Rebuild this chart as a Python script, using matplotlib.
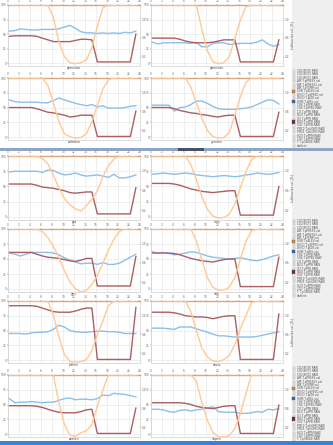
import numpy as np
import matplotlib
matplotlib.use("Agg")
import matplotlib.pyplot as plt
from matplotlib.patches import Rectangle

W, H = 333, 445

# Hourly sample times (one value per hour)
HOURS = np.arange(24) + 0.25
HOUR_TICKS = list(range(0, 25, 2))

STATIONS = ["gemeinde", "gemeinde", "zollikofen", "yverdon",
            "bad", "rüthi", "gais", "lenk",
            "pfäfers", "davos", "saanen", "laupen"]

# Relative humidity per station (left axis)
humidity = [
    [55, 56, 59, 58, 57, 57, 58, 58, 58, 59, 62, 65, 60, 54, 52, 52, 51, 52, 51, 52, 51, 53, 52, 55],
    [36, 33, 35, 35, 35, 35, 35, 34, 35, 28, 28, 34, 35, 35, 32, 33, 34, 34, 34, 36, 40, 33, 29, 32],
    [63, 60, 59, 59, 59, 59, 58, 58, 62, 66, 63, 60, 57, 55, 53, 55, 51, 53, 49, 49, 49, 50, 52, 53],
    [54, 54, 54, 54, 44, 50, 51, 55, 61, 61, 57, 52, 48, 47, 47, 47, 48, 49, 51, 55, 59, 63, 62, 56],
    [74, 75, 75, 75, 75, 75, 73, 77, 76, 72, 69, 70, 72, 69, 67, 68, 69, 67, 65, 70, 64, 64, 66, 69],
    [70, 71, 72, 71, 70, 71, 72, 71, 69, 68, 67, 66, 67, 68, 67, 66, 67, 69, 70, 72, 71, 70, 71, 73],
    [60, 58, 55, 58, 61, 61, 61, 61, 60, 57, 52, 48, 45, 42, 43, 43, 41, 44, 41, 41, 43, 48, 53, 58],
    [62, 60, 61, 59, 57, 58, 60, 62, 61, 58, 55, 53, 52, 51, 50, 51, 52, 50, 48, 47, 49, 52, 55, 57],
    [45, 45, 45, 44, 46, 47, 47, 48, 52, 59, 56, 50, 48, 47, 47, 48, 49, 49, 48, 48, 47, 45, 45, 45],
    [54, 54, 54, 53, 52, 56, 56, 56, 53, 50, 47, 44, 41, 41, 40, 39, 39, 39, 39, 40, 42, 44, 46, 48],
    [60, 53, 54, 54, 55, 54, 53, 54, 54, 57, 60, 61, 58, 59, 59, 58, 60, 66, 65, 69, 68, 67, 65, 63],
    [42, 42, 41, 38, 37, 40, 41, 39, 41, 42, 44, 46, 38, 37, 37, 37, 35, 35, 36, 38, 37, 42, 41, 43],
]

# Pressure signal per station (left axis)
pressure = [
    [46, 47, 47, 47, 47, 46, 43, 40, 37, 37, 37, 37, 39, 41, 41, 40, 2, 2, 2, 2, 2, 2, 2, 50],
    [43, 43, 43, 43, 43, 41, 38, 36, 35, 35, 35, 36, 38, 40, 40, 40, 2, 2, 2, 2, 2, 2, 2, 40],
    [50, 50, 50, 50, 50, 48, 45, 42, 41, 39, 37, 34, 35, 37, 37, 37, 1, 1, 1, 1, 1, 1, 1, 44],
    [50, 50, 50, 50, 48, 45, 43, 41, 40, 38, 37, 35, 34, 36, 37, 37, 1, 1, 1, 1, 1, 1, 1, 42],
    [54, 54, 54, 54, 54, 52, 49, 48, 47, 45, 43, 40, 39, 40, 41, 41, 5, 5, 5, 5, 5, 5, 5, 48],
    [55, 55, 55, 55, 54, 52, 49, 46, 44, 42, 41, 40, 41, 42, 43, 43, 3, 3, 3, 3, 3, 3, 3, 50],
    [61, 61, 61, 61, 61, 58, 55, 53, 52, 51, 49, 47, 46, 48, 51, 51, 5, 5, 5, 5, 5, 5, 5, 54],
    [60, 60, 60, 60, 59, 57, 54, 51, 49, 47, 46, 45, 47, 49, 50, 50, 4, 4, 4, 4, 4, 4, 4, 53],
    [92, 92, 92, 92, 92, 91, 88, 85, 82, 81, 81, 81, 83, 86, 88, 88, 1, 1, 1, 1, 1, 1, 1, 89],
    [81, 81, 81, 81, 80, 78, 75, 74, 73, 73, 72, 70, 72, 74, 75, 75, 1, 1, 1, 1, 1, 1, 1, 78],
    [48, 48, 48, 48, 48, 47, 45, 42, 39, 37, 36, 36, 36, 38, 41, 42, 1, 1, 1, 1, 1, 1, 1, 44],
    [53, 53, 53, 53, 53, 53, 52, 50, 47, 45, 44, 43, 45, 47, 48, 48, 1, 1, 1, 1, 1, 1, 1, 49],
]

# Sun signal per station (right axis)
sun = [
    [1.3, 1.3, 1.3, 1.3, 1.3, 1.3, 1.3, 1.3, 1.04, 0.52, 0.20, 0.07, 0.05, 0.07, 0.13, 0.39, 0.85, 1.24, 1.3, 1.3, 1.3, 1.3, 1.3, 1.3],
    [1.3, 1.3, 1.3, 1.3, 1.3, 1.3, 1.3, 1.3, 1.3, 0.78, 0.33, 0.09, 0.05, 0.07, 0.20, 0.59, 0.98, 1.26, 1.3, 1.3, 1.3, 1.3, 1.3, 1.3],
    [1.3, 1.3, 1.3, 1.3, 1.3, 1.3, 1.3, 1.14, 0.78, 0.39, 0.13, 0.07, 0.04, 0.05, 0.13, 0.39, 0.72, 1.07, 1.26, 1.3, 1.3, 1.3, 1.3, 1.3],
    [1.3, 1.3, 1.3, 1.3, 1.3, 1.3, 1.3, 1.10, 0.78, 0.46, 0.20, 0.07, 0.04, 0.05, 0.16, 0.52, 0.91, 1.21, 1.3, 1.3, 1.3, 1.3, 1.3, 1.3],
    [1.3, 1.3, 1.3, 1.3, 1.3, 1.3, 1.25, 1.14, 0.91, 0.65, 0.44, 0.31, 0.23, 0.18, 0.29, 0.42, 0.59, 0.88, 1.10, 1.24, 1.3, 1.3, 1.3, 1.3],
    [1.3, 1.3, 1.3, 1.3, 1.3, 1.3, 1.3, 1.12, 0.82, 0.48, 0.22, 0.08, 0.04, 0.05, 0.12, 0.33, 0.65, 0.98, 1.22, 1.3, 1.3, 1.3, 1.3, 1.3],
    [1.3, 1.3, 1.3, 1.3, 1.3, 1.3, 1.25, 1.12, 0.94, 0.72, 0.44, 0.21, 0.07, 0.0, 0.03, 0.16, 0.34, 0.59, 0.86, 1.09, 1.25, 1.3, 1.3, 1.3],
    [1.3, 1.3, 1.3, 1.3, 1.3, 1.3, 1.3, 1.3, 1.05, 0.66, 0.30, 0.10, 0.04, 0.04, 0.10, 0.30, 0.68, 1.04, 1.26, 1.3, 1.3, 1.3, 1.3, 1.3],
    [1.3, 1.3, 1.3, 1.3, 1.3, 1.3, 1.3, 1.3, 1.01, 0.55, 0.18, 0.03, 0.02, 0.03, 0.07, 0.26, 0.59, 0.88, 1.20, 1.3, 1.3, 1.3, 1.3, 1.3],
    [1.3, 1.3, 1.3, 1.3, 1.3, 1.3, 1.3, 1.07, 0.68, 0.31, 0.13, 0.04, 0.03, 0.07, 0.16, 0.39, 0.72, 0.99, 1.26, 1.3, 1.3, 1.3, 1.3, 1.3],
    [1.3, 1.3, 1.3, 1.3, 1.3, 1.3, 1.3, 1.3, 1.3, 0.72, 0.26, 0.04, 0.01, 0.09, 0.13, 0.26, 0.65, 0.98, 1.3, 1.3, 1.3, 1.3, 1.3, 1.3],
    [1.3, 1.3, 1.3, 1.3, 1.3, 1.3, 1.3, 1.3, 1.17, 0.72, 0.35, 0.09, 0.01, 0.0, 0.03, 0.18, 0.49, 0.91, 1.3, 1.3, 1.3, 1.3, 1.3, 1.3],
]

LEGEND_ITEMS = ["CO2/BGT0 RAW", "CO2/BGT1 RAW", "CO2/BGT2 RAW",
                "AIR T.pPRESS.val", "AIR T.pPRESS2.val",
                "AIR T.pTEMP.val", "SUN T.pELEV.val",
                "WIND T.pSPEED.val", "WIND T.pDIR.val",
                "HUM T.pREL.val", "CH4 T.pPPB RAW",
                "CH4 T.pPPB2 RAW", "CO T.pPPB RAW", "N2O T.pPPB RAW",
                "O3 T.pPPB RAW", "NOX T.pPPB RAW", "SO2 T.pPPB RAW",
                "PM10 T.pUGM3 RAW", "PM25 T.pUGM3 RAW",
                "H2O T.pPPM RAW", "CO2 T.pPPM RAW",
                "T T.pINSIDE RAW", "lauftext"]

BLUE = "#8cbfea"
MAROON = "#ac5f62"
ORANGE = "#ffc995"
LEGEND_COLORS = {6: "#e8903c", 9: "#2a6db8", 15: "#7a2a2a"}

fig = plt.figure(figsize=(W / 100, H / 100), dpi=100)
fig.patch.set_facecolor("white")


def px_rect(x, y, w, h):
    return [x / W, 1 - (y + h) / H, w / W, h / H]


# light grey side column behind the legends
fig.add_artist(Rectangle((292 / W, 1 - 441 / H), (W - 292) / W, 441 / H,
                         transform=fig.transFigure, facecolor="#efefef",
                         edgecolor="none", zorder=0))

TICK_KW = dict(labelsize=2.1, length=0.8, width=0.3, pad=0.4, colors="#666666")


def panel(x, y, w, h, i, right_label=None):
    ax = fig.add_axes(px_rect(x, y, w, h))
    ax.set_xlim(0, 24)
    ax.set_ylim(-5, 100)
    ax.set_xticks(HOUR_TICKS)
    ax.set_xticklabels([str(t) for t in HOUR_TICKS])
    ax.xaxis.tick_top()
    ax.set_yticks([0, 25, 50, 75, 100])
    ax.tick_params(**TICK_KW)
    ax.grid(color="#e4e4e4", lw=0.4)
    for s in ax.spines.values():
        s.set_color("#c4c4c4")
        s.set_linewidth(0.4)
    ax.spines["top"].set_color("#d9a67e")
    ax.spines["top"].set_linewidth(1.0)
    ax.plot(HOURS, humidity[i], color=BLUE, lw=1.0, solid_joinstyle="round")
    ax.plot(HOURS, pressure[i], color=MAROON, lw=1.0, solid_joinstyle="round")
    ax.xaxis.set_label_position("bottom")
    ax.set_xlabel(STATIONS[i], fontsize=2.1, labelpad=0.3, color="#444444")

    ax2 = ax.twinx()
    ax2.set_ylim(0, 1.3)
    ax2.set_yticks([0.2, 0.6, 1.0])
    ax2.set_yticklabels(["0.2", "0.6", "1.0"])
    ax2.tick_params(**TICK_KW)
    for s in ax2.spines.values():
        s.set_visible(False)
    ax2.plot(HOURS, sun[i], color=ORANGE, lw=1.0, solid_joinstyle="round")
    if right_label:
        ax2.set_ylabel(right_label, fontsize=2.1, labelpad=1.0,
                       color="#444444")


def legend(y0):
    step = 3.4
    for k, name in enumerate(LEGEND_ITEMS):
        yy = y0 + k * step
        if k in LEGEND_COLORS:
            fig.add_artist(Rectangle((291.5 / W, 1 - (yy + 1.7) / H), 3.4 / W, 3.4 / H,
                                     transform=fig.transFigure,
                                     facecolor=LEGEND_COLORS[k],
                                     edgecolor="#555555", lw=0.3, zorder=3))
        else:
            fig.add_artist(Rectangle((292.5 / W, 1 - (yy + 1.1) / H), 2.2 / W, 2.2 / H,
                                     transform=fig.transFigure,
                                     facecolor="white", edgecolor="#999999",
                                     lw=0.3, zorder=3))
        fig.text(297 / W, 1 - yy / H, name, fontsize=2.0, color="#555555",
                 va="center", ha="left", zorder=4)


COLS = [8, 151]
COL_W = 132
ROWS = [(5, 61), (78, 62), (156, 64), (229, 63), (301, 62), (375, 62)]
RIGHT_LABEL = "Luftfeuchte rel. [%]"

idx = 0
for r, (ry, rh) in enumerate(ROWS):
    for c, cx in enumerate(COLS):
        lab = RIGHT_LABEL if (c == 1 and r in (0, 2, 4)) else None
        panel(cx, ry, COL_W, rh, idx, lab)
        idx += 1

legend(71)
legend(221)
legend(368)

# section separator bar and bottom bar
fig.add_artist(Rectangle((0, 1 - 150.5 / H), 1, 3 / H, transform=fig.transFigure,
                         facecolor="#8ea6c4", edgecolor="none", zorder=5))
fig.add_artist(Rectangle((178 / W, 1 - 150.5 / H), 26 / W, 3 / H,
                         transform=fig.transFigure, facecolor="#4c4f5c",
                         edgecolor="none", zorder=6))
fig.add_artist(Rectangle((0, 0), 1, 4 / H, transform=fig.transFigure,
                         facecolor="#3b82d6", edgecolor="none", zorder=5))

fig.savefig("out.png", dpi=100, facecolor="white")
